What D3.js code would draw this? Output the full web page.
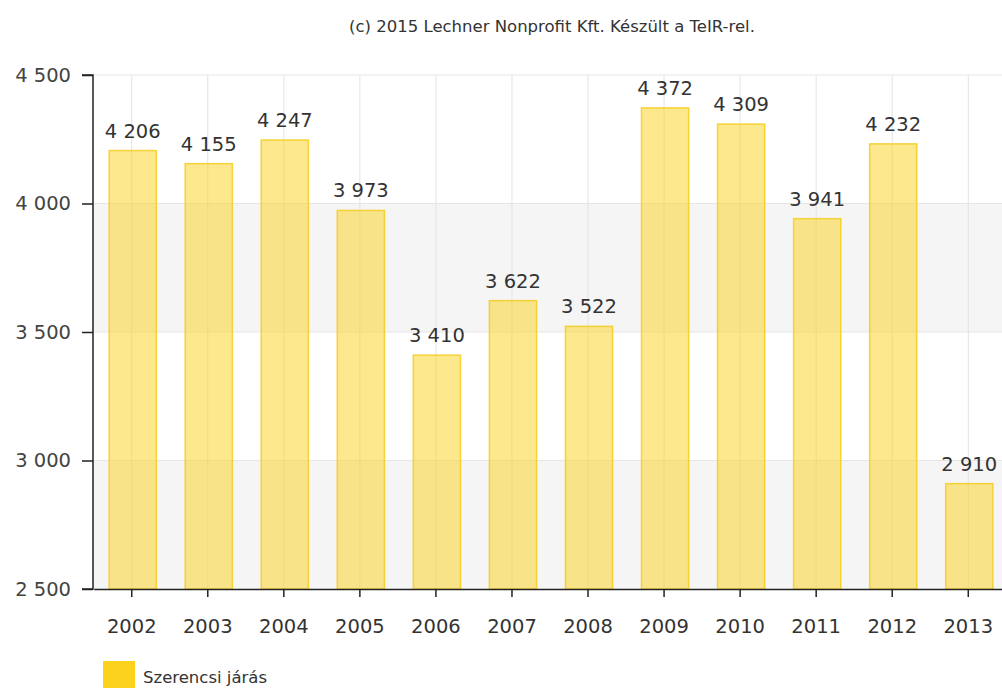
<!DOCTYPE html>
<html>
<head>
<meta charset="utf-8">
<script src="https://cdn.jsdelivr.net/npm/d3@7"></script>
<style>
  body { margin: 0; background: #fff; }
  text { font-family: "DejaVu Sans", Verdana, sans-serif; }
</style>
</head>
<body>
<div class="chart"></div>
<script>
var years = ['2002', '2003', '2004', '2005', '2006', '2007', '2008', '2009', '2010', '2011', '2012', '2013'];
var values = [4206, 4155, 4247, 3973, 3410, 3622, 3522, 4372, 4309, 3941, 4232, 2910];
var yTicks = [2500, 3000, 3500, 4000, 4500];
var seriesName = 'Szerencsi járás';
var credit = '(c) 2015 Lechner Nonprofit Kft. Készült a TeIR-rel.';

var width = 1002,
    height = 688,
    plotLeft = 93,
    plotTop = 75,
    plotBottom = 589,
    step = 76.05;

var fmt = function(v) { return d3.format(',')(v).replace(/,/g, ' '); };

var svg = d3.select('.chart').append('svg')
    .attr('width', width)
    .attr('height', height);

var x = d3.scaleBand()
    .domain(years)
    .range([plotLeft + 0.7, plotLeft + 0.7 + step * years.length])
    .paddingInner(0.38)
    .paddingOuter(0.19);

var y = d3.scaleLinear()
    .domain([2500, 4500])
    .range([plotBottom, plotTop]);

// alternating bands
var bands = [[3500, 4000], [2500, 3000]];
svg.selectAll('rect.band').data(bands)
    .enter().append('rect')
        .attr('class', 'band')
        .attr('x', plotLeft)
        .attr('width', width - plotLeft)
        .attr('y', function(d) { return y(d[1]); })
        .attr('height', function(d) { return y(d[0]) - y(d[1]); })
        .style('fill', '#f5f5f5');

// horizontal grid
svg.selectAll('line.hgrid').data(yTicks.slice(1))
    .enter().append('line')
        .attr('x1', plotLeft).attr('x2', width)
        .attr('y1', function(d) { return y(d); })
        .attr('y2', function(d) { return y(d); })
        .style('stroke', '#e6e6e6');

// vertical grid at category centers
svg.selectAll('line.vgrid').data(years)
    .enter().append('line')
        .attr('x1', function(d) { return x(d) + x.bandwidth() / 2; })
        .attr('x2', function(d) { return x(d) + x.bandwidth() / 2; })
        .attr('y1', plotTop).attr('y2', plotBottom)
        .style('stroke', '#e3e3e3');

// bars
svg.selectAll('rect.bar').data(values)
    .enter().append('rect')
        .attr('class', 'bar')
        .attr('x', function(d, i) { return x(years[i]) + 1; })
        .attr('width', x.bandwidth())
        .attr('y', function(d) { return y(d); })
        .attr('height', function(d) { return plotBottom - y(d); })
        .style('fill', 'rgba(252, 210, 28, 0.5)')
        .style('stroke', 'rgba(245, 205, 30, 0.85)')
        .style('stroke-width', 1.5);

// value labels
svg.selectAll('text.val').data(values)
    .enter().append('text')
        .attr('x', function(d, i) { return x(years[i]) + x.bandwidth() / 2 + 1; })
        .attr('y', function(d) { return y(d) - 13; })
        .attr('text-anchor', 'middle')
        .style('font-size', '19.5px')
        .style('fill', '#333')
        .text(fmt);

// y axis
var yAxis = d3.axisLeft(y).tickValues(yTicks).tickFormat(fmt).tickSize(11).tickPadding(11);
var ga = svg.append('g').attr('transform', 'translate(' + plotLeft + ',0)').call(yAxis);
ga.select('.domain').attr('d', 'M-11,' + plotTop + 'H0V' + plotBottom + 'H-11').style('stroke', '#222').style('stroke-width', 1.5);
ga.selectAll('.tick line').style('stroke', '#222').style('stroke-width', 1.5);
ga.selectAll('.tick text').style('font-size', '19.5px').style('fill', '#444')
    .style('font-family', '"DejaVu Sans", Verdana, sans-serif');

// x axis
var xAxis = d3.axisBottom(x).tickSize(8).tickPadding(22).tickSizeOuter(0);
var gx = svg.append('g').attr('transform', 'translate(0,' + plotBottom + ')').call(xAxis);
gx.select('.domain').style('stroke', '#222').style('stroke-width', 1.5);
gx.selectAll('.tick line').style('stroke', '#222').style('stroke-width', 1.5);
gx.selectAll('.tick text').style('font-size', '19.5px').style('fill', '#333')
    .style('font-family', '"DejaVu Sans", Verdana, sans-serif');

// credit
svg.append('text')
    .text(credit)
    .attr('x', 552)
    .attr('y', 32)
    .attr('text-anchor', 'middle')
    .style('font-size', '16.5px')
    .style('fill', '#333');

// legend
svg.append('rect')
    .attr('x', 103).attr('y', 661)
    .attr('width', 32).attr('height', 27)
    .style('fill', '#fcd21c');
svg.append('text')
    .text(seriesName)
    .attr('x', 143)
    .attr('y', 683)
    .style('font-size', '16.5px')
    .style('fill', '#333');
</script>
</body>
</html>
